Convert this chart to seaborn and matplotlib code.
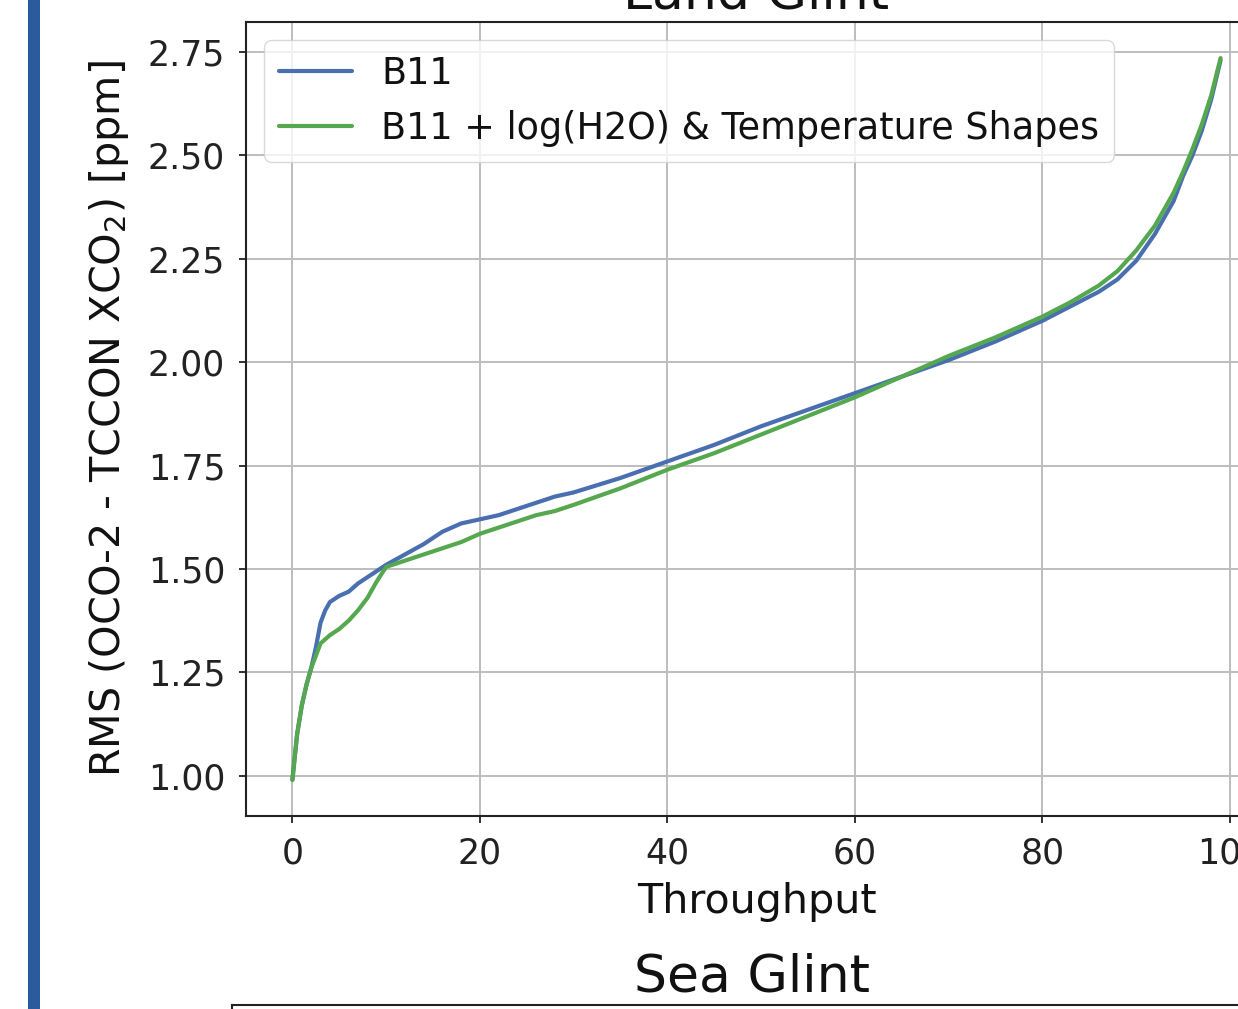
import numpy as np
import pandas as pd
import matplotlib
matplotlib.use("Agg")
import matplotlib.pyplot as plt
from matplotlib.patches import Rectangle
import seaborn as sns

# Throughput (%) at which the RMS difference is evaluated
throughput = [0, 0.5, 1, 1.5, 2, 2.5, 3, 3.5, 4, 5, 6, 7, 8, 9, 10, 12, 14, 16, 18, 20,
              22, 24, 26, 28, 30, 35, 40, 45, 50, 55, 60, 65, 70, 75, 80, 83, 86, 88,
              90, 92, 94, 95, 96, 97, 98, 99]

# RMS (OCO-2 - TCCON XCO2) [ppm], B11 retrieval
rms_b11 = [0.99, 1.10, 1.17, 1.22, 1.26, 1.31, 1.37, 1.40, 1.42, 1.435, 1.445, 1.465,
           1.48, 1.495, 1.51, 1.535, 1.56, 1.59, 1.61, 1.62, 1.63, 1.645, 1.66, 1.675,
           1.685, 1.72, 1.76, 1.80, 1.845, 1.885, 1.925, 1.965, 2.005, 2.05, 2.10,
           2.135, 2.17, 2.20, 2.245, 2.31, 2.39, 2.45, 2.50, 2.56, 2.635, 2.73]

# RMS for B11 + log(H2O) & temperature shapes
rms_b11_h2o_t = [0.99, 1.10, 1.17, 1.22, 1.26, 1.29, 1.32, 1.33, 1.34, 1.355, 1.375,
                 1.40, 1.43, 1.47, 1.505, 1.52, 1.535, 1.55, 1.565, 1.585, 1.60, 1.615,
                 1.63, 1.64, 1.655, 1.695, 1.74, 1.78, 1.825, 1.87, 1.915, 1.965,
                 2.015, 2.06, 2.11, 2.145, 2.185, 2.22, 2.27, 2.33, 2.41, 2.46, 2.515,
                 2.575, 2.645, 2.735]

series_names = ["B11", "B11 + log(H2O) & Temperature Shapes"]
series_colors = ["#4a6fb0", "#55a84e"]

df = pd.DataFrame({
    "Throughput": throughput * 2,
    "RMS": rms_b11 + rms_b11_h2o_t,
    "Run": [series_names[0]] * len(throughput) + [series_names[1]] * len(throughput),
})

sns.set_theme(style="ticks")
plt.rcParams["font.family"] = ["DejaVu Sans"]
plt.rcParams.update({
    "axes.edgecolor": "#222222",
    "axes.linewidth": 1.5,
    "axes.grid": True,
    "grid.color": "#bdbdbd",
    "grid.linewidth": 1.4,
    "xtick.major.size": 5,
    "ytick.major.size": 5,
    "xtick.major.width": 1.3,
    "ytick.major.width": 1.3,
    "xtick.color": "#222222",
    "ytick.color": "#222222",
    "xtick.labelcolor": "#222222",
    "ytick.labelcolor": "#222222",
})

W, H = 1238, 1009
fig = plt.figure(figsize=(W / 100, H / 100), dpi=100)
fig.patch.set_facecolor("white")

# slide accent bar on the left
fig.add_artist(Rectangle((28 / W, 0), 12 / W, 1, transform=fig.transFigure,
                         facecolor="#2b5b9c", edgecolor="none"))

# upper panel: land glint
ax = fig.add_axes([246 / W, 1 - 816 / H, (1267 - 246) / W, (816 - 22) / H])
sns.lineplot(data=df, x="Throughput", y="RMS", hue="Run", hue_order=series_names,
             palette=series_colors, linewidth=3.0, ax=ax, sort=False)
ax.set_facecolor("white")
ax.set_yticks([1.00, 1.25, 1.50, 1.75, 2.00, 2.25, 2.50, 2.75])
ax.set_yticklabels(["1.00", "1.25", "1.50", "1.75", "2.00", "2.25", "2.50", "2.75"])
ax.set_xticks([0, 20, 40, 60, 80, 100])
ax.tick_params(axis="y", labelsize=25, pad=10)
ax.tick_params(axis="x", labelsize=25, pad=10)
ax.set_xlabel("Throughput", fontsize=29.7, labelpad=8, color="#111111")
ax.set_ylabel(r"RMS (OCO-2 - TCCON XCO$_2$) [ppm]", fontsize=29.7, labelpad=12,
              color="#111111")
ax.set_title("Land Glint", fontsize=37.5, pad=10, color="#111111")
handles, labels = ax.get_legend_handles_labels()
leg = ax.legend(handles, labels, loc="upper left", fontsize=26.3, frameon=True,
                fancybox=True, framealpha=0.8, edgecolor="#d0d0d0",
                handlelength=2.0, labelspacing=0.5, borderaxespad=0.5)
for t in leg.get_texts():
    t.set_color("#111111")

# lower panel: sea glint (only its header is in view)
ax2 = fig.add_axes([232 / W, 4 / H - 0.7, 0.84, 0.7])
ax2.set_facecolor("white")
ax2.grid(False)
ax2.set_xticks([])
ax2.set_yticks([])
ax2.set_title("Sea Glint", fontsize=37.5, pad=9.5, color="#111111")

fig.savefig("out.png", dpi=100, facecolor="white")
